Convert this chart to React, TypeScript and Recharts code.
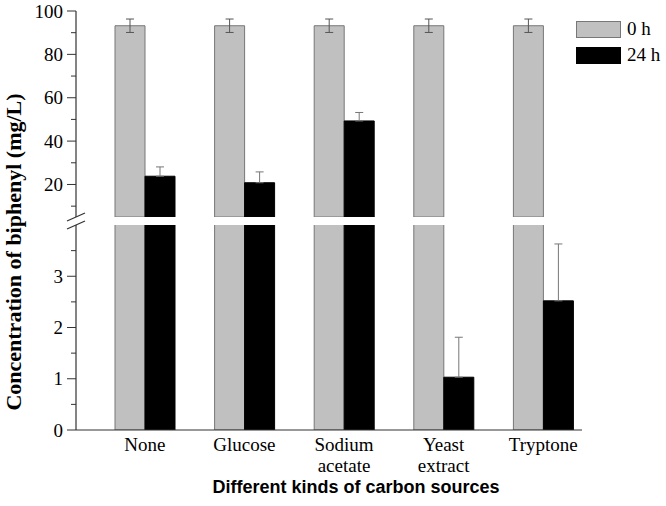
import React from 'react';
import { BarChart, Bar, XAxis, YAxis, ErrorBar, Legend } from 'recharts';

// ---- data ----
const categories = ['None', 'Glucose', 'Sodium acetate', 'Yeast extract', 'Tryptone'];
const values0h = [93.2, 93.2, 93.2, 93.2, 93.2];
const errors0h = [3.1, 3.1, 3.1, 3.1, 3.1];
const values24h = [23.8, 20.8, 49.3, 1.03, 2.52];
const errors24h = [4.3, 5.0, 3.9, 0.78, 1.11];

const upperDomain = [5, 100];
const upperTicks = [10, 20, 30, 40, 50, 60, 70, 80, 90, 100];
const upperMajor = [20, 40, 60, 80, 100];
const lowerDomain = [0, 4];
const lowerTicks = [0, 0.5, 1, 1.5, 2, 2.5, 3, 3.5];
const lowerMajor = [0, 1, 2, 3];

const seriesNames = ['0 h', '24 h'];
const seriesFill = ['#c0c0c0', '#000000'];
const seriesStroke = ['#777777', '#000000'];

const lowerData = categories.map((name, i) => ({
  name,
  h0: values0h[i],
  h24: values24h[i],
  e0: [errors0h[i], errors0h[i]],
  e24: [0, errors24h[i]],
}));

// the upper panel only shows values that reach into its range
const upperData = categories.map((name, i) => ({
  name,
  h0: values0h[i] >= upperDomain[0] ? values0h[i] : null,
  h24: values24h[i] >= upperDomain[0] ? values24h[i] : null,
  e0: [errors0h[i], errors0h[i]],
  e24: values24h[i] >= upperDomain[0] ? [0, errors24h[i]] : [0, 0],
}));

const SERIF = '"Liberation Serif", "Times New Roman", serif';
const SANS = '"Liberation Sans", Arial, sans-serif';
const AXIS = '#333333';

const makeYTick = (major: number[]) => (props: any) => {
  const { x, y, payload } = props;
  const isMajor = major.includes(payload.value);
  return (
    <g>
      <line x1={x - (isMajor ? 9 : 5)} x2={x} y1={y} y2={y} stroke={AXIS} strokeWidth={1} />
      {isMajor && (
        <text x={x - 13} y={y} dy={6.5} textAnchor="end" fontFamily={SERIF} fontSize={19} fill="#000">
          {payload.value}
        </text>
      )}
    </g>
  );
};

const XTick = (props: any) => {
  const { x, y, payload } = props;
  const lines = String(payload.value).split(' ');
  return (
    <g>
      {lines.map((ln, k) => (
        <text key={k} x={x} y={y + 21 + k * 21} textAnchor="middle" fontFamily={SERIF} fontSize={19} fill="#000">
          {ln}
        </text>
      ))}
    </g>
  );
};

const LegendContent = () => (
  <div style={{ fontFamily: SERIF, fontSize: 19, color: '#000' }}>
    {seriesNames.map((n, i) => (
      <div key={n} style={{ display: 'flex', alignItems: 'center', height: 26 }}>
        <div
          style={{
            width: 45,
            height: 17,
            background: seriesFill[i],
            border: `1px solid ${seriesStroke[i]}`,
            boxSizing: 'border-box',
            marginRight: 6,
          }}
        />
        <span>{n}</span>
      </div>
    ))}
  </div>
);

const xPadding = { left: 19, right: -11 };

export default function App() {
  return (
    <div style={{ position: 'absolute', left: 0, top: 0, width: 666, height: 506, background: '#fff' }}>
      {/* lower panel */}
      <div style={{ position: 'absolute', left: 0, top: 0 }}>
        <BarChart width={666} height={506} data={lowerData} margin={{ top: 225, right: 84, bottom: 0, left: 0 }} barGap={0} barSize={30}>
          <XAxis
            dataKey="name"
            height={76}
            padding={xPadding}
            tickLine={false}
            tickSize={0}
            tickMargin={0}
            interval={0}
            tick={<XTick />}
            axisLine={{ stroke: AXIS, strokeWidth: 1.2 }}
          />
          <YAxis
            width={76}
            type="number"
            domain={lowerDomain}
            ticks={lowerTicks}
            interval={0}
            allowDataOverflow
            tickLine={false}
            tickSize={0}
            tickMargin={0}
            tick={makeYTick(lowerMajor)}
            axisLine={{ stroke: AXIS, strokeWidth: 1.2 }}
          />
          <Bar dataKey="h0" name={seriesNames[0]} fill={seriesFill[0]} stroke={seriesStroke[0]} strokeWidth={1} isAnimationActive={false}>
            <ErrorBar dataKey="e0" width={4} stroke="#555" strokeWidth={1} direction="y" />
          </Bar>
          <Bar dataKey="h24" name={seriesNames[1]} fill={seriesFill[1]} stroke={seriesStroke[1]} strokeWidth={1} isAnimationActive={false}>
            <ErrorBar dataKey="e24" width={4} stroke="#777" strokeWidth={1} direction="y" />
          </Bar>
        </BarChart>
      </div>
      {/* upper panel */}
      <div style={{ position: 'absolute', left: 0, top: 0 }}>
        <BarChart width={666} height={217} data={upperData} margin={{ top: 11, right: 84, bottom: 0, left: 0 }} barGap={0} barSize={30}>
          <XAxis dataKey="name" hide padding={xPadding} />
          <YAxis
            width={76}
            type="number"
            domain={upperDomain}
            ticks={upperTicks}
            interval={0}
            allowDataOverflow
            tickLine={false}
            tickSize={0}
            tickMargin={0}
            tick={makeYTick(upperMajor)}
            axisLine={{ stroke: AXIS, strokeWidth: 1.2 }}
          />
          <Legend
            layout="vertical"
            align="center"
            verticalAlign="middle"
            content={<LegendContent />}
            wrapperStyle={{ position: 'absolute', top: 16, left: 576, width: 90, height: 60 }}
          />
          <Bar dataKey="h0" name={seriesNames[0]} fill={seriesFill[0]} stroke={seriesStroke[0]} strokeWidth={1} isAnimationActive={false}>
            <ErrorBar dataKey="e0" width={4} stroke="#555" strokeWidth={1} direction="y" />
          </Bar>
          <Bar dataKey="h24" name={seriesNames[1]} fill={seriesFill[1]} stroke={seriesStroke[1]} strokeWidth={1} isAnimationActive={false}>
            <ErrorBar dataKey="e24" width={4} stroke="#777" strokeWidth={1} direction="y" />
          </Bar>
        </BarChart>
      </div>
      {/* titles and axis break marks */}
      <svg width={666} height={506} style={{ position: 'absolute', left: 0, top: 0, pointerEvents: 'none' }}>
        <rect x={60} y={217.5} width={30} height={7} fill="#fff" />
        <line x1={67} y1={221} x2={85} y2={213} stroke={AXIS} strokeWidth={1.3} />
        <line x1={67} y1={229} x2={85} y2={221} stroke={AXIS} strokeWidth={1.3} />
        <text x={356} y={493} textAnchor="middle" fontFamily={SANS} fontWeight="bold" fontSize={18} fill="#000">
          Different kinds of carbon sources
        </text>
        <text
          transform="translate(21,252) rotate(-90)"
          textAnchor="middle"
          fontFamily={SERIF}
          fontWeight="bold"
          fontSize={22}
          fill="#000"
        >
          Concentration of biphenyl (mg/L)
        </text>
      </svg>
    </div>
  );
}
